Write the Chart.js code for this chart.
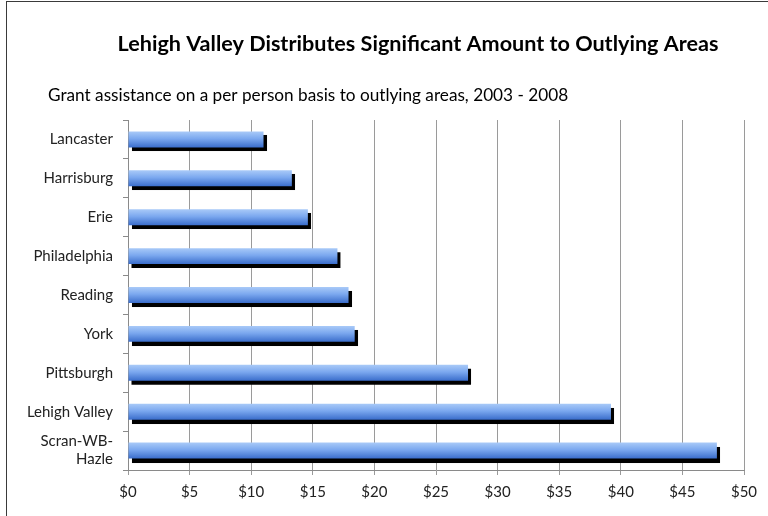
<!DOCTYPE html>
<html>
<head>
<meta charset="utf-8">
<title>Lehigh Valley Distributes Significant Amount to Outlying Areas</title>
<script src="https://cdn.jsdelivr.net/npm/chart.js@4"></script>
<style>
  html, body { margin: 0; padding: 0; background: #fff; overflow: hidden; }
  #wrap { position: relative; width: 768px; height: 516px; overflow: hidden; }
  #chart { display: block; }
  #frame { position: absolute; left: 6px; top: 1px; right: 0; bottom: 0; border-left: 1px solid #3a3a3a; border-top: 1px solid #3a3a3a; pointer-events: none; }
</style>
</head>
<body>
<div id="wrap">
  <canvas id="chart" width="768" height="516"></canvas>
  <div id="frame"></div>
</div>
<script>
const titleText = 'Lehigh Valley Distributes Significant Amount to Outlying Areas';
const subtitleText = 'Grant assistance on a per person basis to outlying areas, 2003 - 2008';

const areas = ['Lancaster', 'Harrisburg', 'Erie', 'Philadelphia', 'Reading', 'York', 'Pittsburgh', 'Lehigh Valley', ['Scran-WB-', 'Hazle']];
const perPerson = [11.0, 13.3, 14.6, 17.0, 17.9, 18.4, 27.6, 39.2, 47.8];
const axisMax = 50;
const axisStep = 5;

const FONT = 'Lato, "Open Sans", sans-serif';

// title + subtitle drawn at fixed spots above the plot
const headings = {
    id: 'headings',
    afterDraw(chart) {
        const c = chart.ctx;
        c.save();
        c.fillStyle = '#000';
        c.textBaseline = 'alphabetic';
        c.font = 'bold 21.6px ' + FONT;
        c.textAlign = 'center';
        c.fillText(titleText, 418, 51);
        c.font = '17.2px ' + FONT;
        c.textAlign = 'left';
        c.fillText(subtitleText, 48, 101);
        c.restore();
    }
};

// hard black drop shadow behind bars
const barShadow = {
    id: 'barShadow',
    beforeDatasetsDraw(chart) {
        const c = chart.ctx;
        c.save();
        c.shadowColor = '#000';
        c.shadowOffsetX = 3;
        c.shadowOffsetY = 4;
        c.shadowBlur = 0.5;
    },
    afterDatasetsDraw(chart) {
        chart.ctx.restore();
    }
};

function barFill(context) {
    const chart = context.chart;
    const y = chart.scales.y;
    if (!chart.chartArea || !y) return '#6f9fe8';
    const mid = y.getPixelForValue(context.dataIndex);
    const half = 8;
    const g = chart.ctx.createLinearGradient(0, mid - half, 0, mid + half);
    g.addColorStop(0, '#a9caf8');
    g.addColorStop(0.45, '#7ba8ef');
    g.addColorStop(1, '#3a6dcb');
    return g;
}

new Chart(document.getElementById('chart').getContext('2d'), {
    type: 'bar',
    data: {
        labels: areas,
        datasets: [{
            label: 'Per person',
            data: perPerson,
            backgroundColor: barFill,
            borderWidth: 0,
            categoryPercentage: 1,
            barPercentage: 0.41
        }]
    },
    options: {
        indexAxis: 'y',
        responsive: false,
        animation: false,
        layout: { padding: { top: 120, left: 8, right: 24, bottom: 0 } },
        plugins: { legend: { display: false }, title: { display: false }, tooltip: { enabled: false } },
        scales: {
            x: {
                min: 0, max: axisMax,
                ticks: { stepSize: axisStep, color: '#222', padding: 8, font: { family: FONT, size: 15 }, callback: v => '$' + v },
                grid: { color: '#9a9a9a', tickLength: 5 },
                border: { color: '#8a8a8a' },
                afterFit(scale) { scale.height = 46; }
            },
            y: {
                ticks: { autoSkip: false, color: '#222', padding: 10, font: { family: FONT, size: 15 } },
                grid: { drawOnChartArea: false, color: '#8a8a8a', tickLength: 5 },
                border: { color: '#8a8a8a' },
                afterFit(scale) { scale.width = 120; }
            }
        }
    },
    plugins: [headings, barShadow]
});
</script>
</body>
</html>
